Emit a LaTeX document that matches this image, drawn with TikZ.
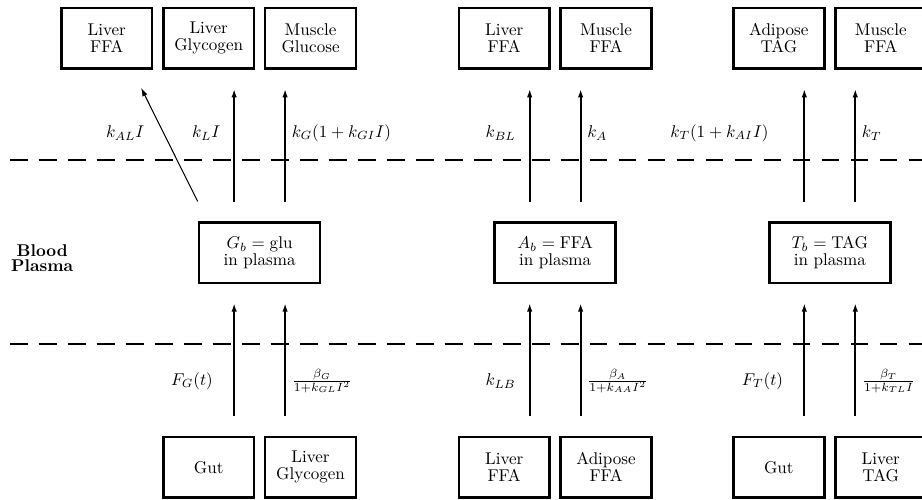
\documentclass[tikz,border=0pt]{standalone}
\usepackage{amsmath}
\usepackage{tikz}
\usetikzlibrary{arrows.meta,positioning,calc}

\begin{document}
\begin{tikzpicture}[organ/.style={draw,line width=1.5pt,minimum width=1.87cm,minimum height=1.25cm,align=center,font=\fontsize{10}{10}\selectfont},
		pool/.style={organ,minimum width=2.49cm,minimum height=1.24cm},
		flux/.style={-{Latex[length=5pt,width=3.2pt]},line width=1.2pt,shorten <=0.41cm,shorten >=0.39cm},
		wall/.style={line width=1.2pt,dash pattern=on 10.5pt off 6.5pt}]
		\useasboundingbox (0,0) rectangle (19,-10.3);
		\draw[wall] (0.2,-3.3) -- (19.2,-3.3);
		\draw[wall] (0.2,-7.09) -- (19.2,-7.09);
		\node[align=center,font=\bfseries\fontsize{10}{9}\selectfont] (blood) at (0.87,-5.32) {Blood\\Plasma};
		\node[pool] (Gb) at (5.35,-5.21) {$G_b=\text{glu}$\\in plasma};
		\node[pool] (Ab) at (11.44,-5.21) {$A_b=\text{FFA}$\\in plasma};
		\node[pool] (Tb) at (17.10,-5.21) {$T_b=\text{TAG}$\\in plasma};
		\node[organ] (LFFAa) at (2.2,-0.79) {Liver\\FFA};
		\node[organ] (LGlya) at (4.3,-0.79) {Liver\\Glycogen};
		\node[organ] (MGlu) at (6.4,-0.79) {Muscle\\Glucose};
		\node[organ] (LFFAb) at (10.39,-0.79) {Liver\\FFA};
		\node[organ] (MFFAa) at (12.49,-0.79) {Muscle\\FFA};
		\node[organ] (ATAG) at (16.05,-0.79) {Adipose\\TAG};
		\node[organ] (MFFAb) at (18.15,-0.79) {Muscle\\FFA};
		\node[organ] (Guta) at (4.3,-9.63) {Gut};
		\node[organ] (LGlyb) at (6.4,-9.63) {Liver\\Glycogen};
		\node[organ] (LFFAc) at (10.39,-9.63) {Liver\\FFA};
		\node[organ] (AFFA) at (12.49,-9.63) {Adipose\\FFA};
		\node[organ] (Gutb) at (16.05,-9.63) {Gut};
		\node[organ] (LTAG) at (18.15,-9.63) {Liver\\TAG};
		\draw[-{Latex[length=5pt,width=3.2pt]},line width=0.6pt,shorten <=0.46cm,shorten >=0.41cm] ([xshift=0.2cm]Gb.north west) -- ([xshift=0.525cm]LFFAa.south) node[pos=0.585,left=0.27cm] {$k_{AL}I$};
		\draw[flux] ([xshift=-0.525cm]Gb.north) -- ([xshift=-0.525cm]Gb.north |- LGlya.south) node[pos=0.585,left=0.15cm] {$k_LI$};
		\draw[flux] ([xshift=0.525cm]Gb.north) -- ([xshift=0.525cm]Gb.north |- MGlu.south) node[pos=0.585,right] {$k_G(1+k_{GI}I)$};
		\draw[flux] ([xshift=-0.525cm]Ab.north) -- ([xshift=-0.525cm]Ab.north |- LFFAb.south) node[pos=0.585,left=0.15cm] {$k_{BL}$};
		\draw[flux] ([xshift=0.525cm]Ab.north) -- ([xshift=0.525cm]Ab.north |- MFFAa.south) node[pos=0.585,right] {$k_A$};
		\draw[flux] ([xshift=-0.525cm]Tb.north) -- ([xshift=-0.525cm]Tb.north |- ATAG.south) node[pos=0.585,left=0.6cm] {$k_T(1+k_{AI}I)$};
		\draw[flux] ([xshift=0.525cm]Tb.north) -- ([xshift=0.525cm]Tb.north |- MFFAb.south) node[pos=0.585,right] {$k_T$};
		\draw[flux] ([xshift=-0.525cm]Gb.south |- Guta.north) -- ([xshift=-0.525cm]Gb.south) node[pos=0.36,left=0.3cm] {$F_G(t)$};
		\draw[flux] ([xshift=0.525cm]Gb.south |- LGlyb.north) -- ([xshift=0.525cm]Gb.south) node[pos=0.36,right] {$\frac{\beta_G}{1+k_{GL}I^2}$};
		\draw[flux] ([xshift=-0.525cm]Ab.south |- LFFAc.north) -- ([xshift=-0.525cm]Ab.south) node[pos=0.36,left=0.15cm] {$k_{LB}$};
		\draw[flux] ([xshift=0.525cm]Ab.south |- AFFA.north) -- ([xshift=0.525cm]Ab.south) node[pos=0.36,right] {$\frac{\beta_A}{1+k_{AA}I^2}$};
		\draw[flux] ([xshift=-0.525cm]Tb.south |- Gutb.north) -- ([xshift=-0.525cm]Tb.south) node[pos=0.36,left=0.3cm] {$F_T(t)$};
		\draw[flux] ([xshift=0.525cm]Tb.south |- LTAG.north) -- ([xshift=0.525cm]Tb.south) node[pos=0.36,right] {$\frac{\beta_T}{1+k_{TL}I}$};
	\end{tikzpicture}
\end{document}
